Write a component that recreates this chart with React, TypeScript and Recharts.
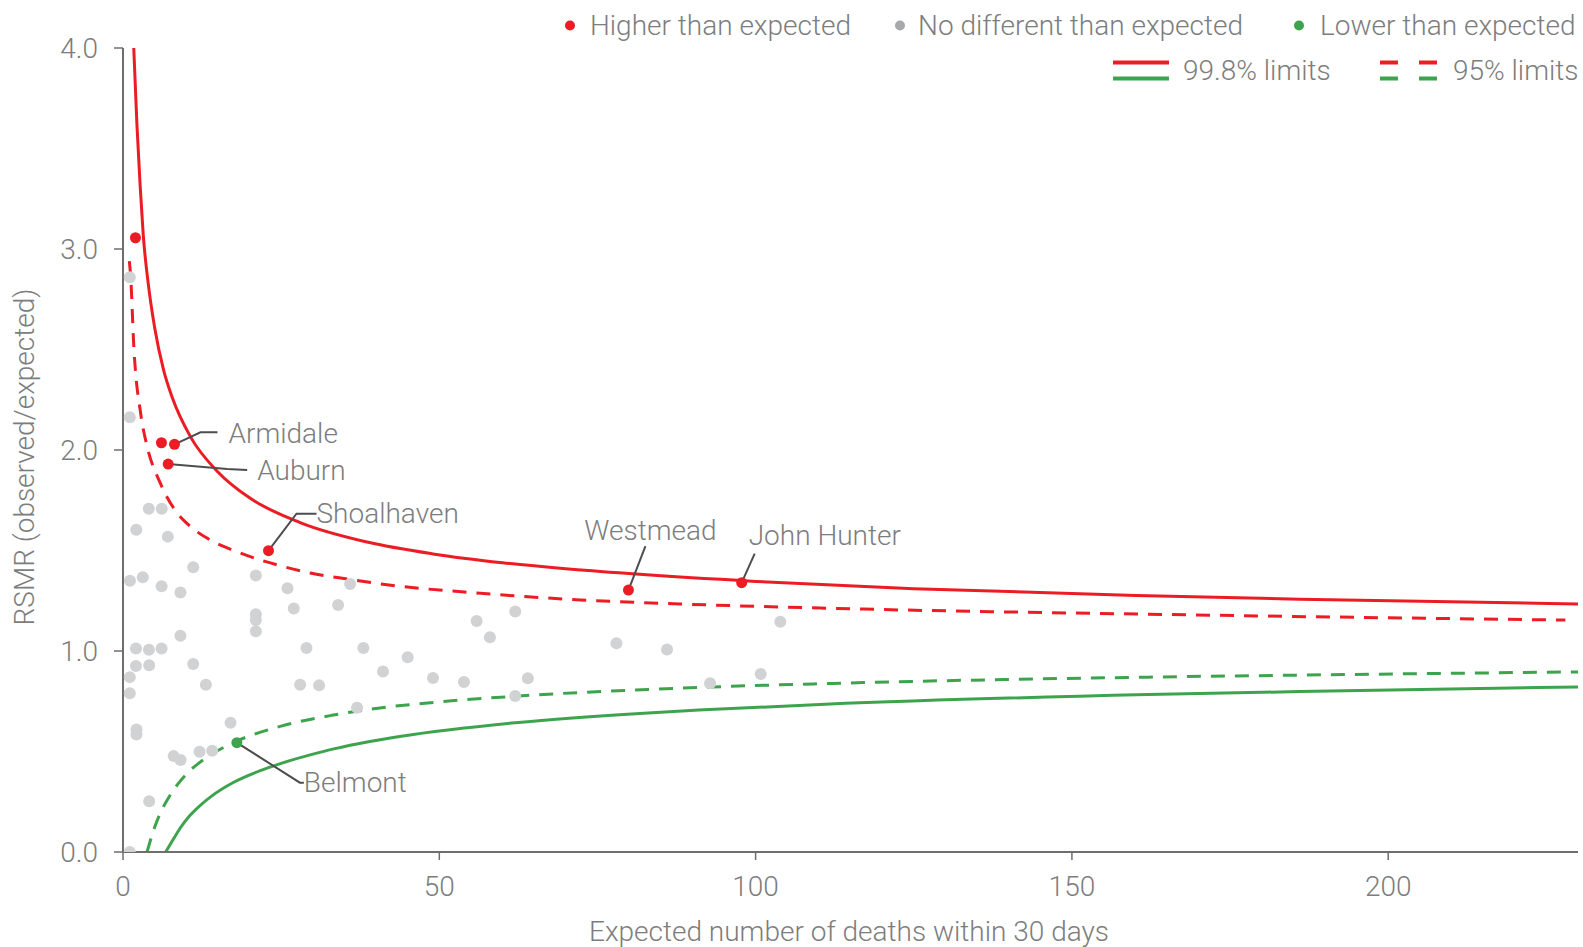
import { ComposedChart, Line, Scatter, XAxis, YAxis } from 'recharts'

const W = 1583
const H = 947
const RED = '#EC1C24'
const GREEN = '#3DA44D'
const GREY_DOT = '#D1D2D4'
const TEXT = '#7D7D7D'
const AXIS = '#6E6E6E'
const LEADER = '#4D4D4D'
const FONT = "Roboto, 'Liberation Sans', Arial, sans-serif"
const FONT_SIZE = 28

const X_TICKS = [0, 50, 100, 150, 200]
const Y_TICKS = [0, 1, 2, 3, 4]

// control limits: [expected, RSMR]
const UPPER_998: [number, number][] = [
  [1.7, 4.0], [2.2, 3.62], [2.7, 3.32], [3.2, 3.07], [4, 2.825], [5, 2.61], [6.4, 2.4],
  [7.8, 2.26], [10.7, 2.064], [15, 1.891], [20, 1.762], [28, 1.639], [38.6, 1.542],
  [49, 1.483], [60, 1.439], [70, 1.409], [80, 1.385], [100, 1.346], [125, 1.31],
  [162, 1.275], [186, 1.258], [230, 1.234],
]
const UPPER_95: [number, number][] = [
  [1.0, 2.94], [1.2, 2.87], [1.7, 2.52], [2.8, 2.18], [3.8, 2.02], [5.9, 1.835],
  [8.6, 1.685], [10.1, 1.635], [13.8, 1.552], [17.5, 1.5], [21.7, 1.453], [24.4, 1.428],
  [29.6, 1.388], [36, 1.356], [40.7, 1.334], [56.5, 1.287], [72.3, 1.254], [88, 1.234],
  [111, 1.213], [162, 1.183], [187, 1.171], [228, 1.154],
]
const LOWER_95: [number, number][] = [
  [3.8, 0.0], [5, 0.123], [6, 0.2], [7, 0.259], [8.6, 0.335], [10.1, 0.39], [12.2, 0.447],
  [14.3, 0.492], [18, 0.552], [25, 0.626], [33, 0.68], [40, 0.714], [50, 0.747], [62, 0.775],
  [83, 0.809], [93, 0.821], [111, 0.838], [162, 0.87], [186, 0.88], [230, 0.896],
]
const LOWER_998: [number, number][] = [
  [6.75, 0.0], [8, 0.066], [9, 0.117], [10.5, 0.179], [12, 0.226], [14, 0.278], [17.5, 0.347],
  [21.7, 0.405], [24.4, 0.435], [29.6, 0.483], [33.3, 0.513], [39, 0.55], [44, 0.576],
  [62, 0.643], [83, 0.692], [91, 0.706], [111, 0.735], [162, 0.783], [186, 0.798], [230, 0.821],
]

// hospitals: [expected, RSMR]
const NO_DIFFERENT: [number, number][] = [
  [1.07, 2.86], [1.07, 2.163], [4.08, 1.708], [6.13, 1.708], [2.1, 1.603], [7.08, 1.569],
  [11.1, 1.417], [21.0, 1.376], [1.1, 1.35], [3.13, 1.367], [6.1, 1.322], [9.08, 1.291],
  [21.0, 1.183], [21.0, 1.154], [21.0, 1.098], [26.0, 1.312], [27.0, 1.212], [34.0, 1.229],
  [35.9, 1.333], [9.08, 1.076], [2.05, 1.013], [4.1, 1.006], [6.1, 1.013], [2.05, 0.925],
  [4.14, 0.929], [1.07, 0.87], [1.07, 0.79], [11.1, 0.935], [13.1, 0.832], [29.0, 1.015],
  [28.0, 0.832], [31.0, 0.829], [38.0, 1.015], [41.1, 0.898], [37.0, 0.718], [2.13, 0.61],
  [2.13, 0.585], [17.0, 0.643], [8.0, 0.477], [9.1, 0.458], [12.1, 0.499], [14.1, 0.504],
  [4.14, 0.252], [1.07, 0.0], [45, 0.969], [49, 0.866], [53.9, 0.846], [55.9, 1.149],
  [58, 1.068], [62, 1.196], [64, 0.864], [62, 0.776], [78, 1.038], [86, 1.008],
  [92.8, 0.839], [100.8, 0.886], [103.9, 1.146],
]
const HIGHER = [
  { name: '', e: 1.97, v: 3.056 },
  { name: '', e: 6.08, v: 2.036 },
  { name: 'Armidale', e: 8.14, v: 2.028 },
  { name: 'Auburn', e: 7.14, v: 1.93 },
  { name: 'Shoalhaven', e: 23.0, v: 1.499 },
  { name: 'Westmead', e: 79.9, v: 1.303 },
  { name: 'John Hunter', e: 97.8, v: 1.34 },
]
const LOWER = [{ name: 'Belmont', e: 18.0, v: 0.544 }]

// callout geometry, pixels relative to the dot
const CALLOUTS: Record<string, { path: [number, number][]; tx: number; ty: number; anchor?: string }> = {
  Armidale: { path: [[0, 0], [26, -12], [43, -12]], tx: 54, ty: -11 },
  Auburn: { path: [[0, 0], [59, 5], [79, 6]], tx: 89, ty: 6 },
  Shoalhaven: { path: [[0, 0], [28, -37], [48, -37]], tx: 48, ty: -37 },
  Westmead: { path: [[0, 0], [17, -44]], tx: 22, ty: -60, anchor: 'middle' },
  'John Hunter': { path: [[0, 0], [13, -29]], tx: 7, ty: -47 },
  Belmont: { path: [[0, 0], [63, 40], [67, 40]], tx: 67, ty: 40 },
}

const toPts = (rows: [number, number][]) => rows.map(([e, v]) => ({ e, v }))

const textStyle = { fontFamily: FONT, fontWeight: 300, fontSize: FONT_SIZE, fill: TEXT }

function GreyDot(props: any) {
  const { cx, cy } = props
  return <circle cx={cx} cy={cy} r={6} fill={GREY_DOT} />
}

function MarkedDot(props: any) {
  const { cx, cy, fill, payload } = props
  const c = CALLOUTS[payload.name]
  return (
    <g>
      {c && (
        <polyline
          points={c.path.map(([dx, dy]) => `${cx + dx},${cy + dy}`).join(' ')}
          fill="none"
          stroke={LEADER}
          strokeWidth={2}
        />
      )}
      <circle cx={cx} cy={cy} r={5.5} fill={fill} />
      {c && (
        <text
          x={cx + c.tx}
          y={cy + c.ty}
          dominantBaseline="central"
          textAnchor={c.anchor ?? 'start'}
          style={textStyle}
        >
          {payload.name}
        </text>
      )}
    </g>
  )
}

function Legend() {
  return (
    <svg width={W} height={100} style={{ position: 'absolute', left: 0, top: 0 }}>
      <circle cx={570} cy={25.5} r={5} fill={RED} />
      <text x={590} y={25.5} dominantBaseline="central" style={textStyle}>Higher than expected</text>
      <circle cx={900} cy={25.5} r={5} fill="#A7A8AA" />
      <text x={918} y={25.5} dominantBaseline="central" style={textStyle}>No different than expected</text>
      <circle cx={1299} cy={25.5} r={5} fill={GREEN} />
      <text x={1320} y={25.5} dominantBaseline="central" style={textStyle}>Lower than expected</text>

      <line x1={1113} x2={1169} y1={62.5} y2={62.5} stroke={RED} strokeWidth={4} />
      <line x1={1113} x2={1169} y1={78.5} y2={78.5} stroke={GREEN} strokeWidth={4} />
      <text x={1183} y={70.5} dominantBaseline="central" style={textStyle}>99.8% limits</text>
      <line x1={1380} x2={1437} y1={62.5} y2={62.5} stroke={RED} strokeWidth={4} strokeDasharray="18 21" />
      <line x1={1380} x2={1437} y1={78.5} y2={78.5} stroke={GREEN} strokeWidth={4} strokeDasharray="18 21" />
      <text x={1453} y={70.5} dominantBaseline="central" style={textStyle}>95% limits</text>
    </svg>
  )
}

function AxisTitles() {
  return (
    <svg width={W} height={H} style={{ position: 'absolute', left: 0, top: 0, pointerEvents: 'none' }}>
      <text x={849} y={931} textAnchor="middle" dominantBaseline="central" style={textStyle}>
        Expected number of deaths within 30 days
      </text>
      <text
        x={24.5}
        y={457}
        textAnchor="middle"
        dominantBaseline="central"
        transform="rotate(-90 24.5 457)"
        style={textStyle}
      >
        RSMR (observed/expected)
      </text>
    </svg>
  )
}

export default function App() {
  const tick = { fontFamily: FONT, fontWeight: 300, fontSize: FONT_SIZE, fill: TEXT }
  return (
    <div style={{ position: 'absolute', left: 0, top: 0, width: W, height: H, background: '#fff' }}>
      <ComposedChart width={W} height={H} margin={{ top: 48, right: 5, bottom: 0, left: 1 }}>
        <XAxis
          type="number"
          dataKey="e"
          domain={[0, 230]}
          ticks={X_TICKS}
          allowDataOverflow
          height={95}
          tick={tick}
          tickSize={8}
          tickMargin={16}
          axisLine={{ stroke: AXIS, strokeWidth: 2 }}
          tickLine={{ stroke: AXIS, strokeWidth: 1.5 }}
        />
        <YAxis
          type="number"
          dataKey="v"
          domain={[0, 4]}
          ticks={Y_TICKS}
          allowDataOverflow
          width={122}
          tickFormatter={(v: number) => v.toFixed(1)}
          tick={tick}
          tickSize={9}
          tickMargin={16}
          axisLine={{ stroke: AXIS, strokeWidth: 2 }}
          tickLine={{ stroke: AXIS, strokeWidth: 1.5 }}
        />
        <Scatter data={toPts(NO_DIFFERENT)} fill={GREY_DOT} shape={<GreyDot />} isAnimationActive={false} />
        <Line data={toPts(UPPER_998)} dataKey="v" type="monotone" stroke={RED} strokeWidth={3}
          dot={false} activeDot={false} isAnimationActive={false} />
        <Line data={toPts(UPPER_95)} dataKey="v" type="monotone" stroke={RED} strokeWidth={3}
          strokeDasharray="14 10" dot={false} activeDot={false} isAnimationActive={false} />
        <Line data={toPts(LOWER_95)} dataKey="v" type="monotone" stroke={GREEN} strokeWidth={3}
          strokeDasharray="14 10" dot={false} activeDot={false} isAnimationActive={false} />
        <Line data={toPts(LOWER_998)} dataKey="v" type="monotone" stroke={GREEN} strokeWidth={3}
          dot={false} activeDot={false} isAnimationActive={false} />
        <Scatter data={HIGHER} fill={RED} shape={<MarkedDot />} isAnimationActive={false} />
        <Scatter data={LOWER} fill={GREEN} shape={<MarkedDot />} isAnimationActive={false} />
      </ComposedChart>
      <Legend />
      <AxisTitles />
    </div>
  )
}
